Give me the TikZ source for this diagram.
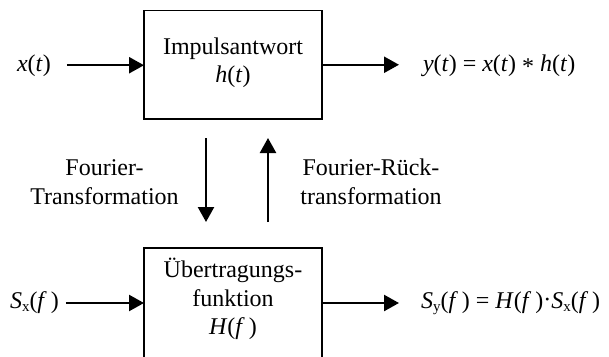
\documentclass[tikz,border=0pt]{standalone}
\usepackage{fontspec}
\setmainfont{Liberation Serif}
\usetikzlibrary{arrows.meta}
\newcommand{\mi}[1]{\textit{#1}}
\newcommand{\sbx}[1]{\raisebox{-0.3ex}{\fontsize{15}{15}\selectfont #1}}
\begin{document}
\begin{tikzpicture}[x=1pt,y=-1pt,
  every node/.style={font=\fontsize{24}{28.8}\selectfont, inner sep=0pt, outer sep=0pt},
  blockbox/.style={draw, line width=1.4pt, minimum width=178pt},
  txt/.style={align=center},
  arr/.style={line width=2.4pt, -{Triangle[length=15pt,width=16pt]}}]
\useasboundingbox (0,0) rectangle (609,356);
\clip (0,0) rectangle (609,356);
% top block
\node[blockbox, minimum height=108.5pt] (top) at (233,64.75) {};
\node[txt] (toptext) at (233,62.8) {Impulsantwort\\\mi{h}(\mi{t})};
% bottom block (extends beyond lower edge)
\node[blockbox, minimum height=130pt] (bot) at (233,313) {};
\node[txt] (bottext) at (233,299) {Übertragungs-\\funktion\\\mi{H}(\mi{f}\,)};
% signals
\node[anchor=base west] (xt) at (17,71) {\mi{x}(\mi{t})};
\node[anchor=base west] (yt) at (423,71) {\mi{y}(\mi{t}) = \mi{x}(\mi{t}) \raisebox{-0.35ex}{*} \mi{h}(\mi{t})};
\node[anchor=base west] (sx) at (10,308) {\mi{S}\sbx{x}(\mi{f}\,)};
\node[anchor=base west] (sy) at (421,308) {\mi{S}\sbx{y}(\mi{f}\,) = \mi{H}(\mi{f}\,)\raisebox{0.05ex}{·}\mi{S}\sbx{x}(\mi{f}\,)};
% transform labels
\node[txt] (ft) at (104.5,182) {Fourier-\\Transformation};
\node[txt] (ift) at (371,182) {Fourier-Rück-\\transformation};
% arrows
\draw[arr, shorten <=16pt] (xt.east) -- (xt.east -| top.west);
\draw[arr, shorten >=24pt] (top.east) -- (top.east -| yt.west);
\draw[arr, shorten <=7pt] (sx.east |- 0,303) -- (top.west |- 0,303);
\draw[arr, shorten >=22pt] (top.east |- 0,303) -- (sy.west |- 0,303);
\draw[arr, shorten <=19pt, shorten >=26pt] ([xshift=-27pt]top.south) -- ([xshift=-27pt]bot.north);
\draw[arr, shorten <=26pt, shorten >=19pt] ([xshift=35pt]bot.north) -- ([xshift=35pt]top.south);
\end{tikzpicture}
\end{document}
